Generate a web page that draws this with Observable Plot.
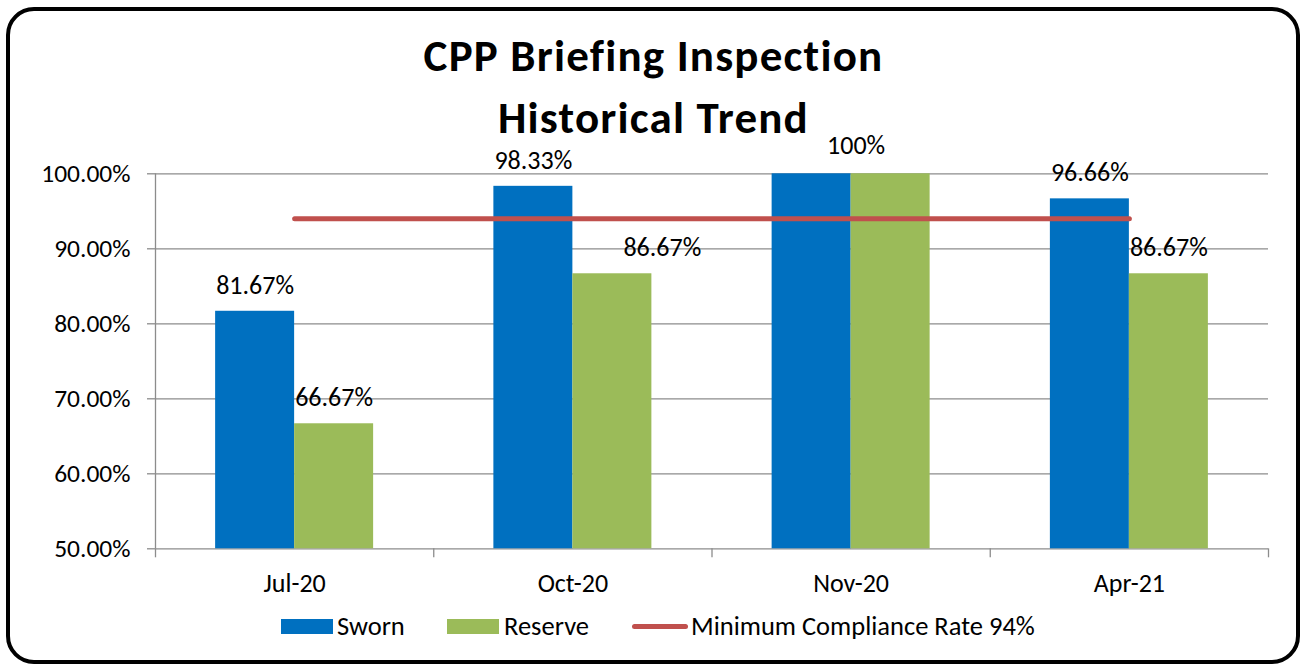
<!DOCTYPE html>
<html><head><meta charset="utf-8">
<script src="https://cdn.jsdelivr.net/npm/d3@7"></script>
<script src="https://cdn.jsdelivr.net/npm/@observablehq/plot@0.6"></script>
<style>
html,body{margin:0;padding:0;background:#fff;}
#frame{position:relative;width:1301px;height:665px;overflow:hidden;font-family:Carlito,Calibri,Lato,sans-serif;color:#000;}
#border{position:absolute;left:6px;top:7px;width:1294px;height:657px;box-sizing:border-box;border:4.5px solid #000;border-radius:28px;pointer-events:none;}
#title{position:absolute;left:3px;top:25px;width:1301px;text-align:center;font-weight:bold;font-size:45px;letter-spacing:1.2px;line-height:62px;}
#chart{position:absolute;left:0;top:130px;}
.lg{position:absolute;}
.lgt{position:absolute;top:611px;font-size:26.5px;line-height:30px;white-space:nowrap;}
</style>
</head><body>
<div id="frame">
  <div id="title">CPP Briefing Inspection<br>Historical Trend</div>
  <div id="chart"></div>
  <div class="lg" style="left:281px;top:619px;width:52px;height:15px;background:#0070C0"></div>
  <div class="lgt" style="left:337px">Sworn</div>
  <div class="lg" style="left:447px;top:619px;width:52px;height:15px;background:#9BBB59"></div>
  <div class="lgt" style="left:504px">Reserve</div>
  <div class="lg" style="left:632px;top:624px;width:56px;height:5px;border-radius:3px;background:#C0504D"></div>
  <div class="lgt" style="left:691px">Minimum Compliance Rate 94%</div>
  <div id="border"></div>
</div>
<script>
const categories = ["Jul-20", "Oct-20", "Nov-20", "Apr-21"];
const sworn = [81.67, 98.33, 100, 96.66];
const reserve = [66.67, 86.67, 100, 86.67];
const minRate = 94;
const yTicks = [50, 60, 70, 80, 90, 100];

const rows = categories.map((c, i) => ({i, cat: c, sworn: sworn[i], reserve: reserve[i]}));
const bw = 79 / 278.25;
const boundaries = d3.range(-0.5, categories.length, 1);
const fmt = v => v === 100 ? "100%" : v.toFixed(2) + "%";
const FONT = "Carlito, Calibri, Lato, sans-serif";
const GRID = "#8c8c8c";
const FS = 25.5;

const chart = Plot.plot({
  width: 1301,
  height: 475,
  marginTop: 43.3,
  marginBottom: 56.7,
  marginLeft: 155,
  marginRight: 33,
  style: {fontFamily: FONT, fontSize: FS + "px", color: "#000", background: "transparent"},
  x: {type: "linear", domain: [-0.5, categories.length - 0.5]},
  y: {domain: [50, 100]},
  marks: [
    Plot.ruleY(yTicks, {stroke: GRID, strokeWidth: 1.3}),
    Plot.axisY({ticks: yTicks, tickSize: 8, tickPadding: 17, tickFormat: d => d.toFixed(2) + "%", stroke: GRID, strokeWidth: 1.3, fontSize: FS, label: null}),
    Plot.ruleX([-0.5], {y1: 50, y2: 100, stroke: GRID, strokeWidth: 1.3}),
    Plot.axisX({ticks: boundaries, tickSize: 9, tickFormat: () => "", stroke: GRID, strokeWidth: 1.3, label: null}),
    Plot.axisX({ticks: categories.map((c, i) => i), tickSize: 0, tickPadding: 25, tickFormat: i => categories[i], fontSize: 26, label: null}),
    Plot.rect(rows, {x1: d => d.i - bw, x2: d => d.i, y1: () => 50, y2: "sworn", fill: "#0070C0"}),
    Plot.rect(rows, {x1: d => d.i, x2: d => d.i + bw, y1: () => 50, y2: "reserve", fill: "#9BBB59"}),
    Plot.line([{x: 0, y: minRate}, {x: categories.length - 1, y: minRate}], {x: "x", y: "y", stroke: "#C0504D", strokeWidth: 5, strokeLinecap: "round"}),
    // value labels
    Plot.text(rows.filter(d => d.i !== 2), {x: d => d.i - bw / 2, y: "sworn", text: d => fmt(d.sworn), dy: -26, fontSize: 26, lineAnchor: "middle", fill: "#000"}),
    Plot.text(rows.filter(d => d.i === 0 || d.i === 3), {x: d => d.i + bw / 2, y: "reserve", text: d => fmt(d.reserve), dy: -26, fontSize: 26, lineAnchor: "middle", fill: "#000"}),
    Plot.text(rows.filter(d => d.i === 1), {x: d => d.i + bw / 2, y: "reserve", text: d => fmt(d.reserve), dx: 50, dy: -26, fontSize: 26, lineAnchor: "middle", fill: "#000"}),
    Plot.text(rows.filter(d => d.i === 2), {x: "i", y: "sworn", text: d => fmt(d.sworn), dx: 5, dy: -28, fontSize: 26, lineAnchor: "middle", fill: "#000"})
  ]
});
document.getElementById("chart").appendChild(chart);
</script>
</body></html>
